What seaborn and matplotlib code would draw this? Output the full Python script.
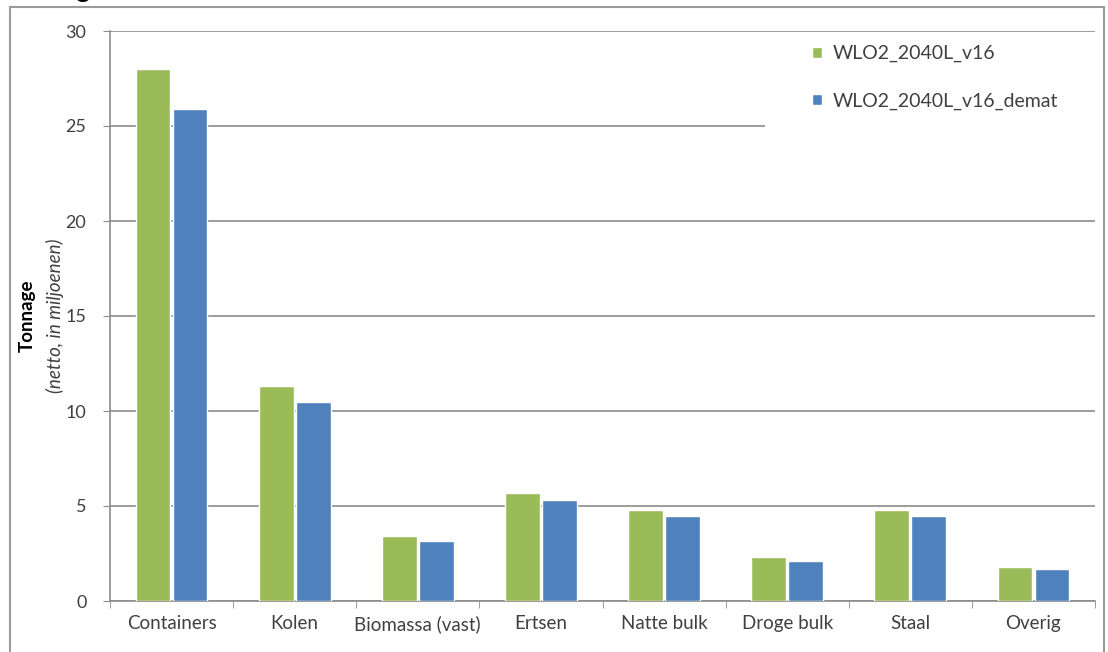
import pandas as pd
import seaborn as sns
import matplotlib.pyplot as plt
from matplotlib.patches import Rectangle
from matplotlib.ticker import MultipleLocator, FixedLocator

categories = ["Containers", "Kolen", "Biomassa (vast)", "Ertsen", "Natte bulk",
              "Droge bulk", "Staal", "Overig"]
series_names = ["WLO2_2040L_v16", "WLO2_2040L_v16_demat"]
v16 = [28.0, 11.3, 3.4, 5.7, 4.8, 2.3, 4.8, 1.8]
v16_demat = [25.9, 10.5, 3.15, 5.3, 4.45, 2.1, 4.45, 1.7]
colors = ["#9BBB59", "#4F81BD"]

df = pd.DataFrame({
    "categorie": categories * 2,
    "tonnage": v16 + v16_demat,
    "scenario": [series_names[0]] * len(categories) + [series_names[1]] * len(categories),
})

sns.set_style("white")
plt.rcParams["font.family"] = ["Lato", "DejaVu Sans"]

fig = plt.figure(figsize=(11.08, 6.52), dpi=100)
ax = fig.add_axes([110 / 1108, 1 - 601 / 652, 985 / 1108, 570 / 652])

sns.barplot(data=df, x="categorie", y="tonnage", hue="scenario", palette=colors,
            width=0.6, gap=0.06, saturation=1, ax=ax, zorder=3)

ax.set_ylim(0, 30)
ax.set_xlim(-0.5, len(categories) - 0.5)
ax.yaxis.set_major_locator(MultipleLocator(5))
ax.grid(axis="y", color="#8c8c8c", linewidth=1.2, zorder=0)
ax.set_axisbelow(True)

# white legend area hides the gridline behind it, as in the original chart
ax.add_patch(Rectangle((0.665, 0.83), 0.335, 0.158, transform=ax.transAxes,
                       facecolor="white", edgecolor="none", zorder=1))

for s in ["top", "right"]:
    ax.spines[s].set_visible(False)
for s in ["left", "bottom"]:
    ax.spines[s].set_color("#8c8c8c")
    ax.spines[s].set_linewidth(1.2)

ax.tick_params(axis="y", left=True, length=5, color="#8c8c8c", labelsize=13,
               labelcolor="#404040", pad=12)
ax.tick_params(axis="x", which="major", length=0, labelsize=13.5,
               labelcolor="#404040", pad=10)
ax.xaxis.set_minor_locator(FixedLocator([i - 0.5 for i in range(len(categories) + 1)]))
ax.tick_params(axis="x", which="minor", bottom=True, length=5, color="#8c8c8c")
ax.set_xlabel("")
ax.set_ylabel("")

fig.text(27 / 1108, 0.515, "Tonnage", rotation=90, ha="center", va="center",
         fontsize=13.5, fontweight="bold", color="#000000")
fig.text(55 / 1108, 0.515, "(netto, in miljoenen)", rotation=90, ha="center",
         va="center", fontsize=13.5, fontstyle="italic", color="#404040")

leg = ax.legend(loc="upper left", bbox_to_anchor=((812 - 110) / 985, (601 - 45) / 570),
                frameon=False, fontsize=14, handlelength=0.5, handleheight=0.5,
                labelspacing=1.55, borderpad=0, borderaxespad=0,
                handletextpad=0.55)
for t in leg.get_texts():
    t.set_color("#404040")

# outer chart frame and clipped heading from the screenshot
fig.add_artist(Rectangle((10 / 1108, -0.05), 1094 / 1108, 1.05 - 7 / 652,
                         transform=fig.transFigure, fill=False,
                         edgecolor="#9a9a9a", linewidth=1.5))
fig.text(0.0, 1 + 3 / 652, "Tonnage", fontsize=20, va="baseline", ha="left",
         color="#000000")

fig.savefig("out.png", dpi=100)
